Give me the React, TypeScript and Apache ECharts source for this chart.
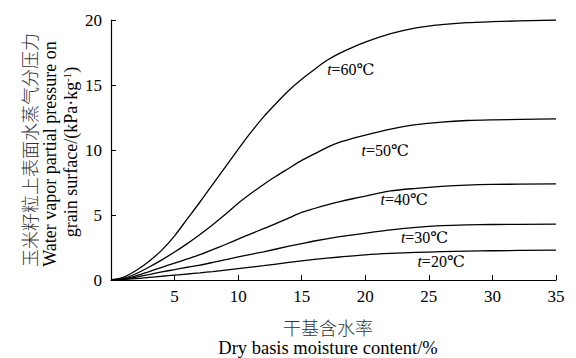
import React, { useEffect, useRef } from "react";
import * as echarts from "echarts";

const xTicks = [0, 5, 10, 15, 20, 25, 30, 35];
const yTicks = [0, 5, 10, 15, 20];

const temps = ["60", "50", "40", "30", "20"];

const s60: [number, number][] = [[0,0],[1,0.22],[2,0.75],[3,1.45],[4,2.3],[5,3.4],[6,4.7],[7,6.0],[8,7.35],[9,8.7],[10,10.05],[11,11.35],[12,12.55],[13,13.6],[14,14.6],[15,15.45],[16,16.2],[17,16.9],[18,17.45],[19,17.9],[20,18.3],[22,18.95],[24,19.4],[26,19.65],[28,19.8],[30,19.87],[35,20.0]];
const s50: [number, number][] = [[0,0],[1,0.13],[2,0.5],[3,1.0],[4,1.55],[5,2.15],[6,2.8],[7,3.5],[8,4.25],[9,5.05],[10,5.9],[11,6.65],[12,7.35],[13,8.0],[14,8.6],[15,9.2],[16,9.7],[17,10.2],[18,10.6],[19,10.9],[20,11.15],[22,11.6],[24,11.95],[26,12.15],[28,12.27],[30,12.32],[35,12.4]];
const s40: [number, number][] = [[0,0],[1,0.08],[2,0.33],[3,0.65],[4,0.98],[5,1.3],[6,1.62],[7,1.95],[8,2.33],[9,2.73],[10,3.15],[11,3.55],[12,3.95],[13,4.35],[14,4.78],[15,5.2],[16,5.5],[17,5.78],[18,6.03],[19,6.25],[20,6.45],[22,6.85],[24,7.05],[26,7.2],[28,7.3],[30,7.35],[35,7.4]];
const s30: [number, number][] = [[0,0],[1,0.05],[2,0.22],[3,0.42],[4,0.62],[5,0.8],[6,0.98],[7,1.15],[8,1.35],[9,1.56],[10,1.78],[12,2.17],[14,2.6],[15,2.8],[16,3.0],[18,3.33],[20,3.6],[22,3.85],[24,4.05],[26,4.18],[28,4.24],[30,4.27],[35,4.3]];
const s20: [number, number][] = [[0,0],[2,0.1],[3,0.2],[4,0.29],[5,0.38],[6,0.46],[7,0.55],[8,0.65],[10,0.88],[12,1.1],[14,1.35],[16,1.58],[18,1.77],[20,1.94],[22,2.05],[24,2.12],[26,2.18],[28,2.22],[30,2.25],[35,2.3]];

const seriesData = [s60, s50, s40, s30, s20];

// label anchors in data coordinates (x, y) for each curve label
const labelPos: [number, number][] = [[17.0, 16.2], [19.7, 10.0], [21.2, 6.2], [22.8, 3.3], [24.1, 1.4]];

const serif = "'Liberation Serif', 'DejaVu Serif', serif";
const cjk = "'Noto Sans CJK SC', sans-serif";

export default function App() {
  const ref = useRef<HTMLDivElement>(null);
  useEffect(() => {
    if (!ref.current) return;
    const chart = echarts.init(ref.current, null, { renderer: "svg" });
    const gridLeft = 111, gridRight = 20, gridTop = 20, gridBottom = 78;
    const W = 576, H = 358;
    const pw = W - gridLeft - gridRight;
    const ph = H - gridTop - gridBottom;
    const toPx = (x: number, y: number) => [gridLeft + (x / 35) * pw, gridTop + (1 - y / 20) * ph];

    const labelGraphics = temps.map((t, i) => {
      const [px, py] = toPx(labelPos[i][0], labelPos[i][1]);
      return {
        type: "text",
        x: px,
        y: py,
        style: {
          text: "{i|t}{n|=" + t + "℃}",
          verticalAlign: "middle",
          rich: {
            i: { fontFamily: serif, fontStyle: "italic", fontSize: 16, fill: "#000" },
            n: { fontFamily: serif, fontSize: 16, fill: "#000" },
          },
        },
      };
    });

    chart.setOption({
      animation: false,
      backgroundColor: "#fff",
      grid: { left: gridLeft, right: gridRight, top: gridTop, bottom: gridBottom, containLabel: false },
      xAxis: {
        type: "value",
        min: xTicks[0],
        max: xTicks[xTicks.length - 1],
        interval: 5,
        axisLine: { show: true, lineStyle: { color: "#000", width: 1.2 } },
        axisTick: { show: true, inside: true, length: 5, lineStyle: { color: "#000" } },
        axisLabel: {
          fontFamily: serif, fontSize: 17, color: "#000", margin: 8,
          formatter: (v: number) => (v === 0 ? "" : String(v)),
        },
        splitLine: { show: false },
      },
      yAxis: {
        type: "value",
        min: yTicks[0],
        max: yTicks[yTicks.length - 1],
        interval: 5,
        axisLine: { show: true, lineStyle: { color: "#000", width: 1.2 } },
        axisTick: { show: true, inside: true, length: 5, lineStyle: { color: "#000" } },
        axisLabel: { fontFamily: serif, fontSize: 17, color: "#000", margin: 9 },
        splitLine: { show: false },
      },
      series: seriesData.map((d, i) => ({
        type: "line",
        name: "t=" + temps[i] + "℃",
        data: d,
        smooth: 0.3,
        showSymbol: false,
        symbol: "none",
        lineStyle: { color: "#000", width: 1.3 },
      })),
      graphic: [
        ...labelGraphics,
        {
          type: "text", x: 29, y: 150, rotation: Math.PI / 2,
          style: { text: "玉米籽粒上表面水蒸气分压力", fontFamily: cjk, fontSize: 18, fontWeight: 300, fill: "#333333", align: "center", verticalAlign: "middle" },
        },
        {
          type: "text", x: 50, y: 154, rotation: Math.PI / 2,
          style: { text: "Water vapor partial pressure on", fontFamily: serif, fontSize: 18, fill: "#000", align: "center", verticalAlign: "middle" },
        },
        {
          type: "text", x: 71, y: 152, rotation: Math.PI / 2,
          style: {
            text: "{n|grain surface/(kPa·kg}{s|-1}{n|)}",
            align: "center", verticalAlign: "middle",
            rich: {
              n: { fontFamily: serif, fontSize: 18, fill: "#000" },
              s: { fontFamily: serif, fontSize: 11, fill: "#000", verticalAlign: "top", padding: [0, 0, 8, 0] },
            },
          },
        },
        {
          type: "text", x: 328, y: 327,
          style: { text: "干基含水率", fontFamily: cjk, fontSize: 18, fontWeight: 300, fill: "#333333", align: "center", verticalAlign: "middle" },
        },
        {
          type: "text", x: 328, y: 348,
          style: { text: "Dry basis moisture content/%", fontFamily: serif, fontSize: 18.5, fill: "#000", align: "center", verticalAlign: "middle" },
        },
      ],
    });
    return () => chart.dispose();
  }, []);
  return <div ref={ref} style={{ width: 576, height: 358, position: "absolute", left: 0, top: 0 }} />;
}
